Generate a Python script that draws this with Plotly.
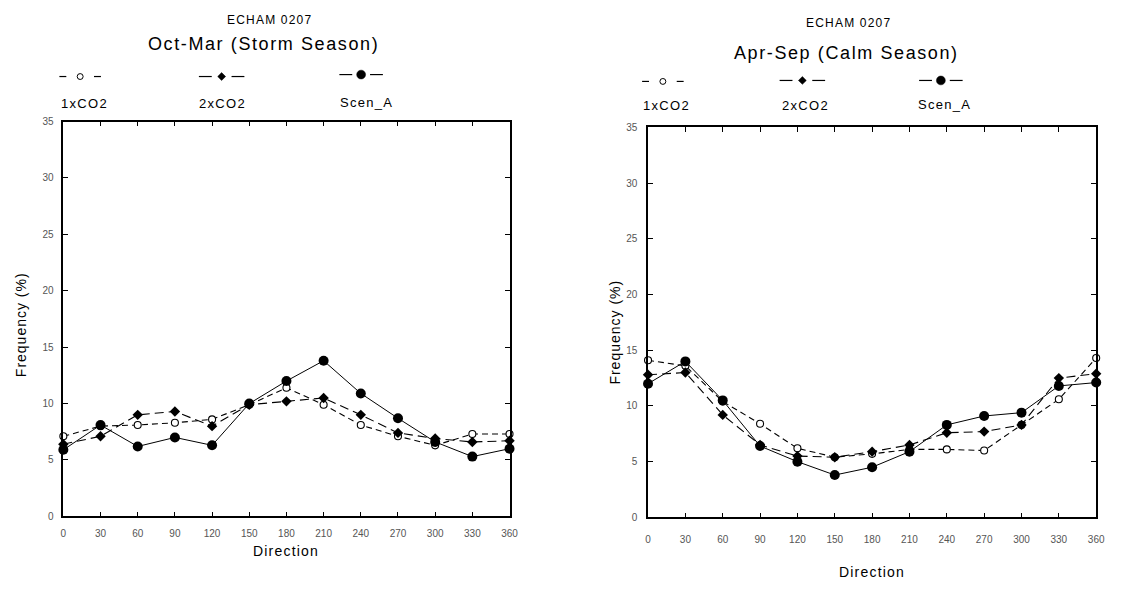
import plotly.graph_objects as go

W, H = 1123, 589

directions = [0, 30, 60, 90, 120, 150, 180, 210, 240, 270, 300, 330, 360]
tick_vals = [0, 30, 60, 90, 120, 150, 180, 210, 240, 270, 300, 330, 360]
y_ticks = [0, 5, 10, 15, 20, 25, 30, 35]

# Oct-Mar (Storm Season)
storm_1xco2 = [7.1, 8.0, 8.1, 8.3, 8.6, 9.9, 11.4, 9.9, 8.1, 7.1, 6.3, 7.3, 7.3]
storm_2xco2 = [6.4, 7.1, 9.0, 9.3, 8.0, 9.9, 10.2, 10.5, 9.0, 7.4, 6.9, 6.6, 6.7]
storm_scen_a = [5.9, 8.1, 6.2, 7.0, 6.3, 10.0, 12.0, 13.8, 10.9, 8.7, 6.6, 5.3, 6.0]

# Apr-Sep (Calm Season)
calm_1xco2 = [14.1, 13.6, 10.4, 8.4, 6.2, 5.4, 5.7, 6.1, 6.1, 6.0, 8.3, 10.6, 14.3]
calm_2xco2 = [12.8, 13.0, 9.2, 6.5, 5.5, 5.4, 5.9, 6.5, 7.6, 7.7, 8.3, 12.5, 12.9]
calm_scen_a = [12.0, 14.0, 10.5, 6.4, 5.0, 3.8, 4.5, 5.9, 8.3, 9.1, 9.4, 11.8, 12.1]

series_names = ["1xCO2", "2xCO2", "Scen_A"]

styles = {
    "1xCO2": dict(line=dict(color="black", width=1.1, dash="6px,4px"),
                  marker=dict(symbol="circle", size=7, color="white",
                              line=dict(color="black", width=1.1))),
    "2xCO2": dict(line=dict(color="black", width=1.1, dash="9px,5px"),
                  marker=dict(symbol="diamond", size=8, color="black",
                              line=dict(color="black", width=0))),
    "Scen_A": dict(line=dict(color="black", width=1.0),
                   marker=dict(symbol="circle", size=10, color="black",
                               line=dict(color="black", width=0))),
}

fig = go.Figure()

for axis_id, data in (("", [storm_1xco2, storm_2xco2, storm_scen_a]),
                      ("2", [calm_1xco2, calm_2xco2, calm_scen_a])):
    for name, vals in zip(series_names, data):
        st = styles[name]
        fig.add_trace(go.Scatter(
            x=directions, y=vals, mode="lines+markers", name=name,
            line=st["line"], marker=st["marker"], cliponaxis=False,
            showlegend=False, xaxis="x" + axis_id, yaxis="y" + axis_id))

def px(x):
    return x / W

def py(y):
    return 1 - y / H

axis_common = dict(
    showline=True, linecolor="black", linewidth=1.5, mirror="ticks",
    ticks="inside", ticklen=5, tickwidth=1, tickcolor="black",
    showgrid=False, zeroline=False,
    tickfont=dict(family="Liberation Sans, Arial", size=10, color="#555"),
)

fig.update_layout(
    width=W, height=H, autosize=False,
    margin=dict(l=0, r=0, t=0, b=0),
    paper_bgcolor="white", plot_bgcolor="white",
    showlegend=False,
    xaxis=dict(domain=[px(61), px(512)], range=[0, 360], tickvals=tick_vals,
               ticklabelstandoff=7, anchor="y", **axis_common),
    yaxis=dict(domain=[py(521), py(118)], range=[0, 35], tickvals=y_ticks,
               ticklabelstandoff=6, anchor="x", **axis_common),
    xaxis2=dict(domain=[px(652), px(1105)], range=[0, 360], tickvals=tick_vals,
                ticklabelstandoff=12, anchor="y2", **axis_common),
    yaxis2=dict(domain=[py(522), py(124)], range=[0, 35], tickvals=y_ticks,
                ticklabelstandoff=7, anchor="x2", **axis_common),
)

FONT = "Liberation Sans, Arial, sans-serif"

def sp(text, s):
    return f'<span style="letter-spacing:{s}px">{text}</span>'

annotations = []

def add_text(text, x, y, size, spacing=0.0, angle=0):
    annotations.append(dict(
        text=sp(text, spacing) if spacing else text,
        x=px(x), y=py(y), xref="paper", yref="paper",
        xanchor="center", yanchor="middle", showarrow=False,
        textangle=angle, font=dict(family=FONT, size=size, color="black")))

# titles
add_text("ECHAM 0207", 269, 14, 12, 1.2)
add_text("Oct-Mar (Storm Season)", 263, 39, 18, 1.6)
add_text("ECHAM 0207", 855, 17, 12, 1.2)
add_text("Apr-Sep (Calm Season)", 853, 48, 18, 1.6)

# axis titles
add_text("Frequency (%)", 19, 325, 14, 1.0, -90)
add_text("Frequency (%)", 619, 333, 14, 1.0, -90)
add_text("Direction", 286, 556, 14, 1.2)
add_text("Direction", 878, 578, 14, 1.2)

# legend glyph / label positions (pixels)
legend_left = {"1xCO2": (78, 72, 82, 100), "2xCO2": (221, 72, 222, 100),
               "Scen_A": (362, 70, 367, 99)}
legend_right = {"1xCO2": (667, 77, 671, 102), "2xCO2": (808, 76, 811, 102),
                "Scen_A": (948, 76, 952, 101)}

shapes = []

def line_seg(x0, x1, y):
    shapes.append(dict(type="line", xref="paper", yref="paper",
                       x0=px(x0), x1=px(x1), y0=py(y), y1=py(y),
                       line=dict(color="black", width=1.2)))

def glyph(name, cx, cy):
    if name == "1xCO2":
        line_seg(cx - 21, cx - 14, cy)
        line_seg(cx + 14, cx + 21, cy)
        r = 3
        shapes.append(dict(type="circle", xref="paper", yref="paper",
                           x0=px(cx - r), x1=px(cx + r), y0=py(cy + r), y1=py(cy - r),
                           line=dict(color="black", width=1), fillcolor="white"))
    elif name == "2xCO2":
        line_seg(cx - 23, cx - 10, cy)
        line_seg(cx + 10, cx + 23, cy)
        d = 4
        path = (f"M {px(cx - d)} {py(cy)} L {px(cx)} {py(cy - d)} "
                f"L {px(cx + d)} {py(cy)} L {px(cx)} {py(cy + d)} Z")
        shapes.append(dict(type="path", xref="paper", yref="paper", path=path,
                           fillcolor="black", line=dict(color="black", width=0.5)))
    else:
        line_seg(cx - 22, cx - 9, cy)
        line_seg(cx + 9, cx + 22, cy)
        r = 4.5
        shapes.append(dict(type="circle", xref="paper", yref="paper",
                           x0=px(cx - r), x1=px(cx + r), y0=py(cy + r), y1=py(cy - r),
                           line=dict(color="black", width=0.5), fillcolor="black"))

for leg in (legend_left, legend_right):
    for name in series_names:
        gx, gy, tx, ty = leg[name]
        glyph(name, gx, gy)
        add_text(name, tx, ty, 13, 1.3)

fig.update_layout(annotations=annotations, shapes=shapes)

fig.write_html("out.html")
